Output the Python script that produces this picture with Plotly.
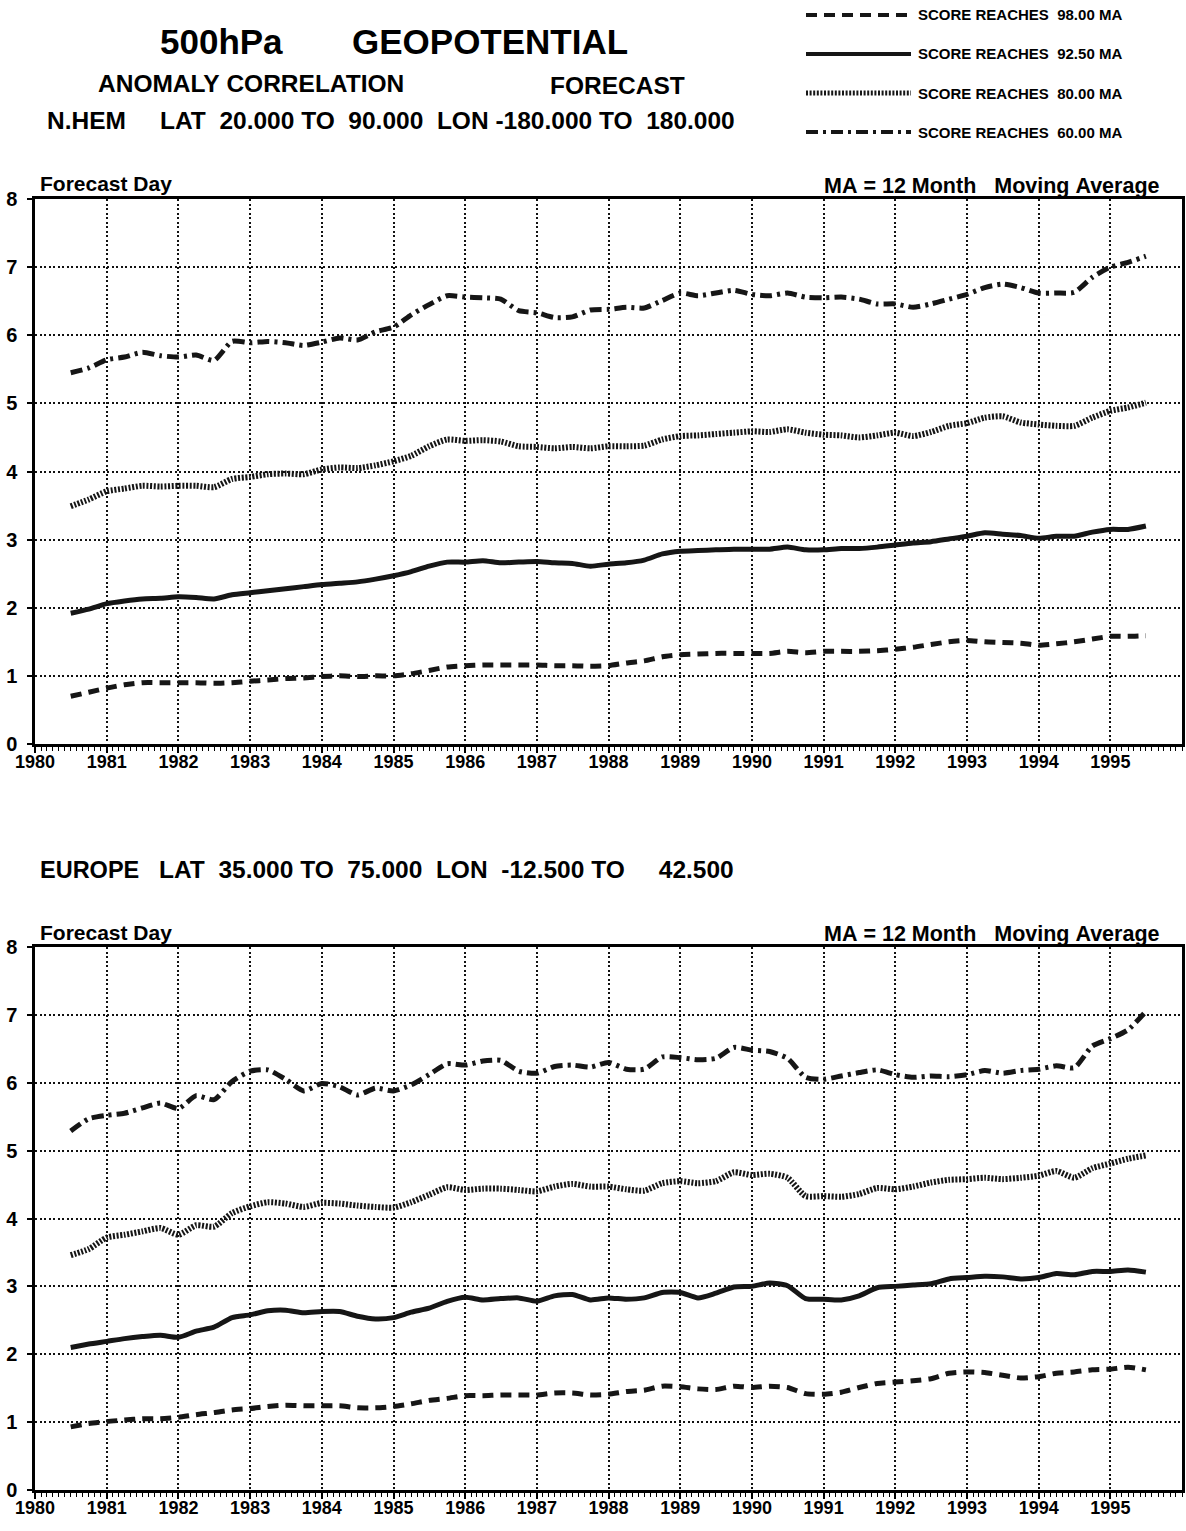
import pandas as pd
import plotly.graph_objects as go

W, H = 1186, 1531

# quarterly sample times, Jul 1980 .. Jul 1995
times = pd.date_range("1980-07-01", "1995-07-01", freq="3MS")
year_ticks = [f"{y}-01-01" for y in range(1980, 1996)]
year_labels = [str(y) for y in range(1980, 1996)]
day_ticks = list(range(0, 9))

series_names = ["SCORE REACHES  98.00 MA", "SCORE REACHES  92.50 MA",
                "SCORE REACHES  80.00 MA", "SCORE REACHES  60.00 MA"]

# ---- N.HEM ----
nh_98 = [0.70, 0.76,
         0.82, 0.87, 0.90, 0.90,
         0.90, 0.90, 0.89, 0.90,
         0.92, 0.94, 0.96, 0.97,
         0.99, 1.00, 0.99, 1.00,
         1.00, 1.03, 1.08, 1.13,
         1.15, 1.16, 1.16, 1.16,
         1.16, 1.15, 1.15, 1.14,
         1.15, 1.19, 1.22, 1.28,
         1.31, 1.32, 1.33, 1.33,
         1.33, 1.33, 1.36, 1.34,
         1.36, 1.36, 1.36, 1.37,
         1.39, 1.42, 1.46, 1.50,
         1.52, 1.50, 1.49, 1.48,
         1.45, 1.47, 1.50, 1.54,
         1.58, 1.58, 1.59]
nh_925 = [1.92, 1.98,
          2.06, 2.10, 2.13, 2.14,
          2.16, 2.15, 2.13, 2.19,
          2.22, 2.25, 2.28, 2.31,
          2.34, 2.36, 2.38, 2.42,
          2.47, 2.53, 2.61, 2.67,
          2.67, 2.69, 2.66, 2.67,
          2.68, 2.66, 2.65, 2.61,
          2.64, 2.66, 2.70, 2.79,
          2.83, 2.84, 2.85, 2.86,
          2.86, 2.86, 2.89, 2.85,
          2.85, 2.87, 2.87, 2.89,
          2.92, 2.95, 2.97, 3.01,
          3.05, 3.10, 3.08, 3.06,
          3.02, 3.05, 3.05, 3.11,
          3.15, 3.15, 3.20]
nh_80 = [3.49, 3.59,
         3.71, 3.75, 3.79, 3.78,
         3.79, 3.79, 3.77, 3.89,
         3.92, 3.96, 3.97, 3.96,
         4.03, 4.06, 4.05, 4.09,
         4.15, 4.23, 4.37, 4.47,
         4.45, 4.46, 4.44, 4.37,
         4.36, 4.34, 4.36, 4.34,
         4.37, 4.37, 4.38, 4.47,
         4.52, 4.53, 4.55, 4.57,
         4.59, 4.58, 4.62, 4.57,
         4.54, 4.53, 4.50, 4.53,
         4.57, 4.52, 4.58, 4.67,
         4.71, 4.79, 4.81, 4.72,
         4.69, 4.67, 4.67, 4.79,
         4.89, 4.94, 5.01]
nh_60 = [5.45, 5.52,
         5.64, 5.68, 5.75, 5.70,
         5.68, 5.71, 5.63, 5.91,
         5.89, 5.91, 5.89, 5.85,
         5.90, 5.96, 5.93, 6.05,
         6.12, 6.30, 6.45, 6.58,
         6.56, 6.55, 6.53, 6.36,
         6.33, 6.26, 6.27, 6.37,
         6.38, 6.41, 6.40, 6.51,
         6.62, 6.58, 6.62, 6.66,
         6.60, 6.58, 6.62, 6.56,
         6.55, 6.56, 6.53, 6.46,
         6.46, 6.41, 6.46, 6.53,
         6.60, 6.70, 6.75, 6.70,
         6.62, 6.62, 6.63, 6.85,
         7.00, 7.07, 7.16]

# ---- EUROPE ----
eu_98 = [0.93, 0.98,
         1.01, 1.03, 1.05, 1.05,
         1.07, 1.11, 1.14, 1.18,
         1.20, 1.23, 1.25, 1.24,
         1.24, 1.24, 1.21, 1.21,
         1.23, 1.27, 1.32, 1.35,
         1.39, 1.39, 1.40, 1.40,
         1.40, 1.43, 1.43, 1.40,
         1.41, 1.45, 1.47, 1.53,
         1.52, 1.49, 1.48, 1.53,
         1.51, 1.53, 1.51, 1.42,
         1.41, 1.44, 1.51, 1.57,
         1.59, 1.61, 1.64, 1.72,
         1.74, 1.73, 1.69, 1.65,
         1.67, 1.72, 1.74, 1.77,
         1.78, 1.81, 1.77]
eu_925 = [2.10, 2.15,
          2.19, 2.23, 2.26, 2.28,
          2.25, 2.34, 2.40, 2.54,
          2.58, 2.64, 2.65, 2.61,
          2.63, 2.63, 2.56, 2.52,
          2.54, 2.62, 2.68, 2.78,
          2.84, 2.80, 2.82, 2.83,
          2.78, 2.86, 2.88, 2.80,
          2.83, 2.81, 2.83, 2.91,
          2.91, 2.83, 2.90, 2.99,
          3.00, 3.05, 3.01, 2.82,
          2.81, 2.80, 2.86, 2.98,
          3.00, 3.02, 3.04, 3.11,
          3.13, 3.15, 3.14, 3.11,
          3.13, 3.19, 3.17, 3.22,
          3.22, 3.24, 3.21]
eu_80 = [3.46, 3.55,
         3.72, 3.76, 3.81, 3.86,
         3.76, 3.90, 3.88, 4.08,
         4.18, 4.24, 4.22, 4.17,
         4.23, 4.22, 4.19, 4.17,
         4.16, 4.24, 4.35, 4.46,
         4.42, 4.44, 4.44, 4.42,
         4.40, 4.47, 4.51, 4.47,
         4.47, 4.43, 4.41, 4.52,
         4.55, 4.52, 4.55, 4.68,
         4.64, 4.66, 4.60, 4.33,
         4.33, 4.32, 4.36, 4.45,
         4.43, 4.47, 4.53, 4.57,
         4.58, 4.60, 4.58, 4.60,
         4.63, 4.70, 4.60, 4.74,
         4.81, 4.88, 4.93]
eu_60 = [5.29, 5.47,
         5.52, 5.55, 5.63, 5.70,
         5.62, 5.81, 5.75, 6.02,
         6.17, 6.19, 6.05, 5.88,
         5.99, 5.94, 5.82, 5.92,
         5.88, 5.97, 6.12, 6.28,
         6.26, 6.32, 6.33, 6.17,
         6.14, 6.24, 6.26, 6.23,
         6.30, 6.20, 6.20, 6.38,
         6.37, 6.34, 6.36, 6.52,
         6.48, 6.46, 6.36, 6.08,
         6.05, 6.10, 6.15, 6.19,
         6.12, 6.08, 6.10, 6.09,
         6.12, 6.18, 6.14, 6.18,
         6.20, 6.25, 6.22, 6.54,
         6.65, 6.78, 7.05]

INK = "#161616"
FONT = "Liberation Sans"
styles = [dict(dash="11px,7px", width=5),          # 98
          dict(dash="solid", width=5),             # 92.5
          dict(dash="2px,1.6px", width=6),         # 80
          dict(dash="12px,5px,3px,5px", width=5)]  # 60


def px(x):
    return x / W


def py(y):
    return 1 - y / H


fig = go.Figure()
panels = [("x", "y", [nh_98, nh_925, nh_80, nh_60]),
          ("x2", "y2", [eu_98, eu_925, eu_80, eu_60])]
for xa, ya, data in panels:
    for name, vals, st in zip(series_names, data, styles):
        fig.add_trace(go.Scatter(
            x=times, y=vals, xaxis=xa, yaxis=ya, mode="lines", name=name,
            showlegend=False, line_shape="spline",
            line=dict(color=INK, width=st["width"], dash=st["dash"], smoothing=0.6)))

xaxis_common = dict(
    type="date", range=["1980-01-01", "1996-01-01"], automargin=False,
    tickvals=year_ticks, ticktext=["<b>" + t + "</b>" for t in year_labels],
    showline=True, linecolor="black", linewidth=2.5, mirror=True,
    showgrid=True, gridcolor="#111", gridwidth=1.6, griddash="2px,2.5px",
    ticks="outside", ticklen=6, tickwidth=2, tickcolor="black",
    minor=dict(dtick="M1", tick0="1980-01-01", ticks="outside", ticklen=4,
               tickwidth=1.3, tickcolor="black", showgrid=False),
    tickfont=dict(family=FONT, size=18, color="black"),
    zeroline=False, fixedrange=True,
)
yaxis_common = dict(
    range=[0, 8], automargin=False,
    tickvals=day_ticks, ticktext=["<b>%d</b>" % v for v in day_ticks],
    showline=True, linecolor="black", linewidth=2.5, mirror=True,
    showgrid=True, gridcolor="#111", gridwidth=1.6, griddash="2px,2.5px",
    ticks="outside", ticklen=5, tickwidth=2, tickcolor="black",
    tickfont=dict(family=FONT, size=20, color="black"),
    zeroline=False, fixedrange=True,
)

xdom = [px(35), px(1182)]
fig.update_layout(
    width=W, height=H, autosize=False,
    margin=dict(l=0, r=0, t=0, b=0, autoexpand=False),
    paper_bgcolor="white", plot_bgcolor="white",
    font=dict(family=FONT, color="black"),
    xaxis=dict(xaxis_common, domain=xdom, anchor="y", ticklabelstandoff=-6),
    yaxis=dict(yaxis_common, domain=[py(744), py(199)], anchor="x", ticklabelstandoff=6),
    xaxis2=dict(xaxis_common, domain=xdom, anchor="y2", ticklabelstandoff=-6),
    yaxis2=dict(yaxis_common, domain=[py(1490), py(947)], anchor="x2", ticklabelstandoff=6),
)

NB = "\u00a0"


def sp(s):
    return s.replace(" ", NB)


def txt(x, y, s, size, anchor="left"):
    fig.add_annotation(x=px(x), y=py(y), xref="paper", yref="paper", text="<b>" + sp(s) + "</b>",
                       showarrow=False, xanchor=anchor, yanchor="middle",
                       font=dict(family=FONT, size=size, color="black"))


# headers
txt(221, 42, "500hPa", 35, "center")
txt(490, 42, "GEOPOTENTIAL", 35, "center")
txt(251, 84, "ANOMALY CORRELATION", 24.5, "center")
txt(617, 85, "FORECAST", 24.5, "center")
txt(45, 120, "N.HEM", 24.5)
txt(158, 120, "LAT  20.000 TO  90.000  LON -180.000 TO  180.000", 24.5)
txt(38, 870, "EUROPE", 23.5)
txt(157, 870, "LAT  35.000 TO  75.000  LON  -12.500 TO     42.500", 24.5)

for ytop in (184, 932):
    txt(38, ytop, "Forecast Day", 21)
    txt(1162, ytop + 2, "MA = 12 Month   Moving Average", 21.5, "right")

# legend samples (key)
legend_rows = [15, 54, 93, 132]
for name, st, yy in zip(series_names, styles, legend_rows):
    fig.add_shape(type="line", xref="paper", yref="paper",
                  x0=px(806), x1=px(911), y0=py(yy), y1=py(yy),
                  line=dict(color=INK, width=st["width"] - 1, dash=st["dash"]))
    txt(916, yy, name, 15)

fig.write_html(
    "out.html",
    config={"responsive": False, "displayModeBar": False},
    post_script="document.body.style.margin='0';document.body.style.overflow='hidden';",
)
